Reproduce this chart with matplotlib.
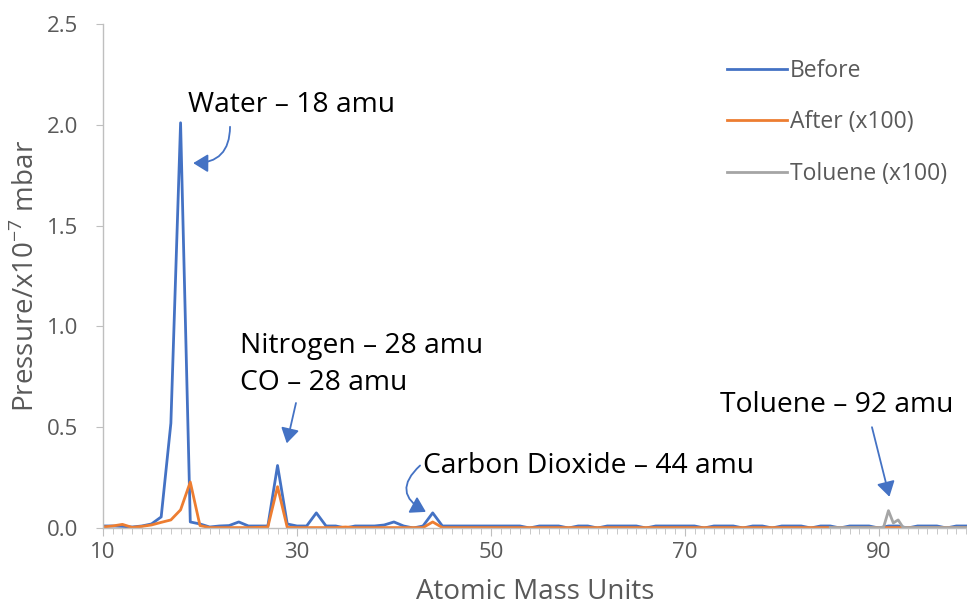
import matplotlib.pyplot as plt
from matplotlib.ticker import MultipleLocator, FixedLocator
import numpy as np

plt.rcParams['font.family'] = ['Open Sans', 'DejaVu Sans']

# mass scale (amu) shared by the before / after scans
amu = np.arange(10, 100)

before = [
    0.010, 0.010, 0.008, 0.005, 0.010, 0.020, 0.055, 0.520, 2.010, 0.030,   # 10-19
    0.020, 0.005, 0.010, 0.012, 0.030, 0.010, 0.010, 0.010, 0.310, 0.020,   # 20-29
    0.010, 0.010, 0.075, 0.010, 0.010, 0.000, 0.010, 0.010, 0.010, 0.015,   # 30-39
    0.030, 0.010, 0.000, 0.010, 0.075, 0.010, 0.010, 0.010, 0.010, 0.010,   # 40-49
    0.010, 0.010, 0.010, 0.010, 0.000, 0.010, 0.010, 0.010, 0.000, 0.010,   # 50-59
    0.010, 0.000, 0.010, 0.010, 0.010, 0.010, 0.000, 0.010, 0.010, 0.010,   # 60-69
    0.010, 0.010, 0.000, 0.010, 0.010, 0.010, 0.000, 0.010, 0.010, 0.000,   # 70-79
    0.010, 0.010, 0.010, 0.000, 0.010, 0.010, 0.000, 0.010, 0.010, 0.010,   # 80-89
    0.000, 0.010, 0.010, 0.000, 0.010, 0.010, 0.010, 0.000, 0.010, 0.010,   # 90-99
]

after_x100 = [
    0.005, 0.010, 0.018, 0.003, 0.008, 0.015, 0.028, 0.040, 0.090, 0.228,   # 10-19
    0.012, 0.002, 0.002, 0.002, 0.002, 0.002, 0.003, 0.005, 0.205, 0.003,   # 20-29
    0.002, 0.002, 0.002, 0.002, 0.002, 0.005, 0.002, 0.002, 0.002, 0.002,   # 30-39
    0.002, 0.002, 0.002, 0.002, 0.030, 0.002, 0.002, 0.002, 0.002, 0.002,   # 40-49
] + [0.002] * 50                                                            # 50-99

# toluene scan, finer steps around the 91/92 fragments
toluene_amu = [85, 86, 87, 88, 89, 90, 90.5, 91, 91.5, 92, 92.5, 93,
               94, 95, 96, 97, 98, 99]
toluene_x100 = [0.002, 0.002, 0.002, 0.002, 0.002, 0.002, 0.004, 0.086, 0.025,
                0.040, 0.003, 0.002, 0.002, 0.002, 0.002, 0.002, 0.002, 0.002]

x_labels = [10, 30, 50, 70, 90]

blue = '#4472C4'
orange = '#ED7D31'
grey = '#A5A5A5'
axis_grey = '#BFBFBF'
text_grey = '#595959'

fig = plt.figure(figsize=(9.67, 6.08), dpi=100)
ax = fig.add_axes([103 / 967, 1 - 528 / 608, 1 - 103 / 967, (528 - 24) / 608])

ax.plot(amu, before, color=blue, lw=2.0, label='Before', solid_joinstyle='round')
ax.plot(amu, after_x100, color=orange, lw=2.0, label='After (x100)', solid_joinstyle='round')
ax.plot(toluene_amu, toluene_x100, color=grey, lw=2.0, label='Toluene (x100)',
        solid_joinstyle='round')

ax.set_xlim(10, 99.1)
ax.set_ylim(0, 2.5)
ax.xaxis.set_major_locator(FixedLocator(x_labels))
ax.xaxis.set_minor_locator(MultipleLocator(1))
ax.yaxis.set_major_locator(MultipleLocator(0.5))
ax.yaxis.set_major_formatter(plt.FormatStrFormatter('%.1f'))

for side in ['top', 'right']:
    ax.spines[side].set_visible(False)
for side in ['left', 'bottom']:
    ax.spines[side].set_color(axis_grey)
    ax.spines[side].set_linewidth(1.0)

ax.tick_params(axis='x', which='both', direction='out', color=axis_grey,
               labelcolor=text_grey, labelsize=16, pad=4)
ax.tick_params(axis='x', which='major', length=6)
ax.tick_params(axis='x', which='minor', length=4)
ax.tick_params(axis='y', direction='out', length=5, color=axis_grey,
               labelcolor=text_grey, labelsize=16, pad=13)

ax.set_xlabel('Atomic Mass Units', color=text_grey, fontsize=20, labelpad=11)
ax.set_ylabel('Pressure/x10$^{\\mathregular{-7}}$ mbar', color=text_grey,
              fontsize=20, labelpad=4)

leg = ax.legend(loc='upper left', bbox_to_anchor=(727 / 967, 1 - 59 / 608),
                bbox_transform=fig.transFigure, frameon=False, fontsize=16.5,
                handlelength=2.6, handletextpad=0.15, labelspacing=1.2,
                borderpad=0, borderaxespad=0)
for t in leg.get_texts():
    t.set_color(text_grey)

# peak annotations
arrow = dict(arrowstyle='-|>,head_length=0.9,head_width=0.55', color=blue, lw=1.3,
             shrinkA=0, shrinkB=0)
note = dict(fontsize=20.3, color='black', ha='left', va='center')

ax.text(18.76, 2.10, 'Water – 18 amu', **note)
ax.annotate('', xy=(19.3, 1.81), xytext=(23.1, 1.99),
            arrowprops=dict(arrow, connectionstyle='arc3,rad=-0.5'))

ax.text(24.1, 0.905, 'Nitrogen – 28 amu', **note)
ax.text(24.1, 0.720, 'CO – 28 amu', **note)
ax.annotate('', xy=(28.95, 0.42), xytext=(29.9, 0.62), arrowprops=arrow)

ax.text(43.0, 0.31, 'Carbon Dioxide – 44 amu', **note)
ax.annotate('', xy=(43.3, 0.08), xytext=(42.7, 0.31),
            arrowprops=dict(arrow, connectionstyle='arc3,rad=0.7'))

ax.text(73.6, 0.61, 'Toluene – 92 amu', **note)
ax.annotate('', xy=(91.1, 0.155), xytext=(89.3, 0.50), arrowprops=arrow)

fig.savefig('out.png', dpi=100)
